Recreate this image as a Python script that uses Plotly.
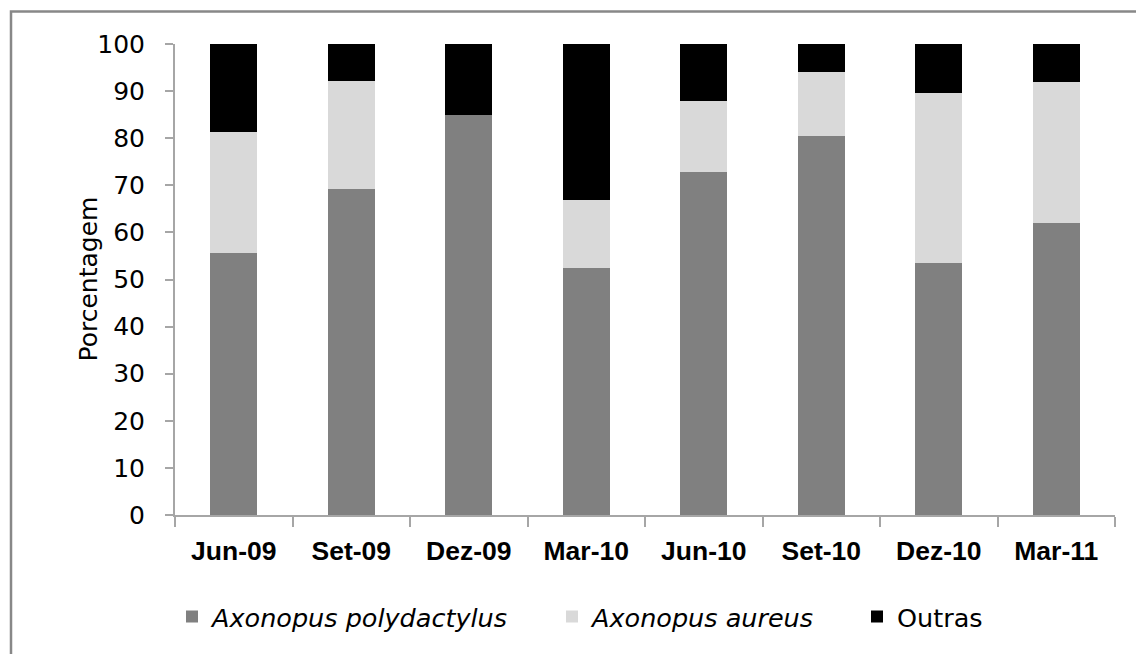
import plotly.graph_objects as go

categories = ["Jun-09", "Set-09", "Dez-09", "Mar-10", "Jun-10", "Set-10", "Dez-10", "Mar-11"]
polydactylus = [55.6, 69.2, 84.9, 52.5, 72.8, 80.5, 53.4, 62.1]
aureus = [25.8, 23.0, 0.0, 14.4, 15.2, 13.6, 36.3, 29.8]
outras = [18.6, 7.8, 15.1, 33.1, 12.0, 5.9, 10.3, 8.1]
series_names = ["<i>Axonopus polydactylus</i>", "<i>Axonopus aureus</i>", "Outras"]
series_colors = ["#808080", "#D9D9D9", "#000000"]
y_ticks = list(range(0, 101, 10))

FONT = "DejaVu Sans"
XFONT = "Liberation Sans"

W, H = 1136, 654
L, T = 175, 44
pw, ph = 940, 471
R, B = W - L - pw, H - T - ph


def px(xs):
    return (xs - L) / pw


def py(ys):
    return (H - B - ys) / ph


legend_ids = ["legend", "legend2", "legend3"]
legend_text_x = [212, 592, 897]

fig = go.Figure()
for name, vals, col, lid in zip(series_names, [polydactylus, aureus, outras], series_colors, legend_ids):
    fig.add_trace(go.Bar(x=categories, y=vals, name=name, marker_color=col,
                         marker_line_width=0, width=0.4, legend=lid))

legend_common = dict(orientation="h", xanchor="left", yanchor="middle", y=py(617),
                     font=dict(family=FONT, size=25.5, color="black"),
                     bgcolor="rgba(0,0,0,0)", itemwidth=30)

fig.update_layout(
    width=W, height=H,
    barmode="stack",
    plot_bgcolor="white", paper_bgcolor="white",
    margin=dict(l=L, r=R, t=T, b=B),
    font=dict(family=FONT, color="black", size=20),
    showlegend=True,
    legend=dict(x=px(legend_text_x[0] - 40), **legend_common),
    legend2=dict(x=px(legend_text_x[1] - 40), **legend_common),
    legend3=dict(x=px(legend_text_x[2] - 40), **legend_common),
    xaxis=dict(showline=True, linecolor="#A6A6A6", linewidth=2, ticks="outside",
               tickson="boundaries", ticklen=10, tickcolor="#A6A6A6", tickwidth=2,
               tickfont=dict(family=XFONT, size=26.5, weight="bold", color="black"),
               ticklabelstandoff=11, showgrid=False, zeroline=False),
    yaxis=dict(range=[0, 100], tickvals=y_ticks, showline=True, linecolor="#A6A6A6",
               linewidth=2, ticks="outside", ticklen=8, tickcolor="#A6A6A6", tickwidth=2,
               tickfont=dict(family=FONT, size=25, color="black"), ticklabelstandoff=15,
               showgrid=False, zeroline=False),
)

fig.add_annotation(text="Porcentagem", textangle=-90, xref="paper", yref="paper",
                   x=px(71), y=py(279), showarrow=False,
                   font=dict(family=FONT, size=25, color="black"))

fig.add_shape(type="rect", xref="paper", yref="paper",
              x0=px(11), x1=px(1160), y0=py(680), y1=py(11.5),
              line=dict(color="#888888", width=2.5), fillcolor="rgba(0,0,0,0)", layer="below")

fig.write_html(
    "out.html",
    config={"displayModeBar": False},
    post_script="document.body.style.margin='0';document.body.style.overflow='hidden';",
)
